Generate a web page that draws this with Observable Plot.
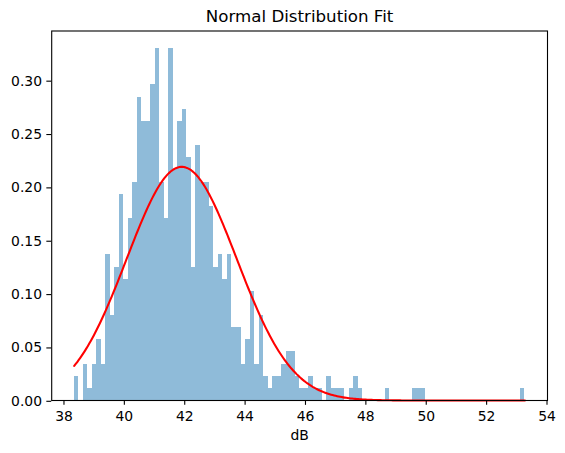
<!DOCTYPE html>
<html>
<head>
<meta charset="utf-8">
<script src="https://cdn.jsdelivr.net/npm/d3@7"></script>
<script src="https://cdn.jsdelivr.net/npm/@observablehq/plot@0.6"></script>
<style>
  body { margin: 0; background: #fff; }
  #chart svg { display: block; }
</style>
</head>
<body>
<div id="chart"></div>
<script>
// Histogram of dB readings: 100 equal-width bins starting at binStart
const binStart = 38.34;
const binWidth = 0.1493;
const binCounts = [
  2, 0, 3, 1, 3, 5, 3, 12, 7, 11,
  17, 10, 15, 18, 25, 23, 23, 26, 29, 18,
  15, 29, 19, 23, 24, 20, 11, 21, 18, 18,
  16, 11, 12, 10, 12, 6, 6, 3, 5, 9,
  3, 7, 2, 1, 2, 2, 3, 4, 4, 2,
  1, 1, 2, 1, 1, 0, 2, 1, 1, 1,
  0, 1, 2, 1, 0, 0, 0, 0, 0, 1,
  0, 0, 0, 0, 0, 1, 1, 1, 0, 0,
  0, 0, 0, 0, 0, 0, 0, 0, 0, 0,
  0, 0, 0, 0, 0, 0, 0, 0, 0, 1
];

// Parameters of the fitted normal distribution
const fitMean = 41.9;
const fitStd = 1.822;

// Axis ticks
const xTicks = [38, 40, 42, 44, 46, 48, 50, 52, 54];
const yTicks = [0, 0.05, 0.10, 0.15, 0.20, 0.25, 0.30];

// Normalise counts to a probability density (area = 1)
const total = d3.sum(binCounts);
const bins = binCounts.map((c, i) => ({
  x1: binStart + i * binWidth,
  x2: binStart + (i + 1) * binWidth,
  density: c / (total * binWidth)
}));
const binEnd = binStart + binCounts.length * binWidth;

// Normal pdf evaluated across the data range
const normalPdf = x => Math.exp(-0.5 * ((x - fitMean) / fitStd) ** 2) / (fitStd * Math.sqrt(2 * Math.PI));
const fitLine = d3.range(0, 301).map(k => {
  const x = binStart + (binEnd - binStart) * k / 300;
  return {x, y: normalPdf(x)};
});

// 5% padding around the data on both axes
const xPad = 0.05 * (binEnd - binStart);
const yMax = d3.max(bins, d => d.density) * 1.05;

const chart = Plot.plot({
  width: 565,
  height: 453,
  marginLeft: 51.2,
  marginRight: 18,
  marginTop: 30.5,
  marginBottom: 53,
  style: {fontFamily: "'DejaVu Sans', sans-serif", fontSize: "13.9px", color: "black", background: "white"},
  x: {domain: [binStart - xPad, binEnd + xPad]},
  y: {domain: [0, yMax]},
  marks: [
    Plot.rectY(bins, {x1: "x1", x2: "x2", y: "density", fill: "#8fbbd9", inset: 0, shapeRendering: "crispEdges"}),
    Plot.line(fitLine, {x: "x", y: "y", stroke: "red", strokeWidth: 2.08}),
    Plot.frame({stroke: "black", strokeWidth: 1.1}),
    Plot.axisX(xTicks, {tickSize: 4.86, tickPadding: 5.6, strokeWidth: 1.1, tickFormat: d => String(d), label: null, fontSize: 13.9}),
    Plot.axisY(yTicks, {tickSize: 4.86, tickPadding: 4.86, strokeWidth: 1.1, tickFormat: d3.format(".2f"), label: null, fontSize: 13.9, dy: 0.8}),
    Plot.text(["Normal Distribution Fit"], {frameAnchor: "top", lineAnchor: "bottom", dy: -9.5, fontSize: 16.67, fill: "black"}),
    Plot.text(["dB"], {frameAnchor: "bottom", lineAnchor: "bottom", dy: 39.7, fontSize: 13.9, fill: "black"})
  ]
});

document.getElementById("chart").appendChild(chart);
</script>
</body>
</html>
